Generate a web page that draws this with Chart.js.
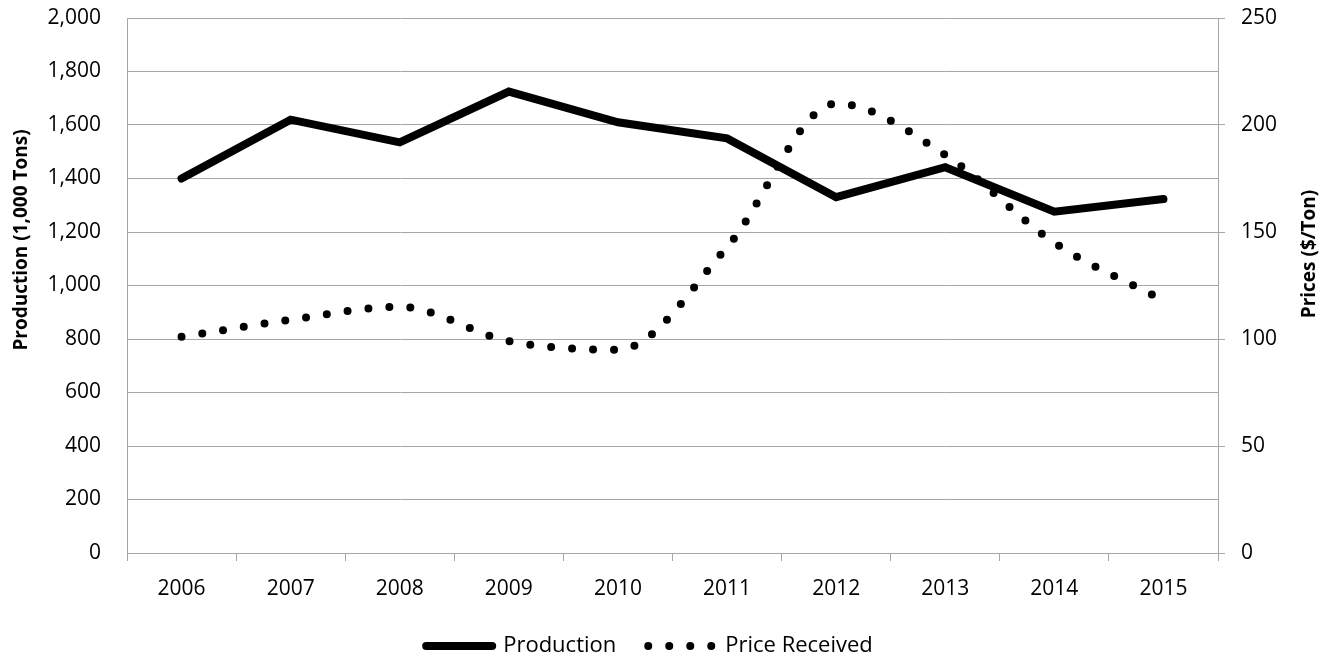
<!DOCTYPE html>
<html lang="en">
<head>
<meta charset="UTF-8" />
<title>Production and Price Received</title>
<script src="https://cdn.jsdelivr.net/npm/chart.js"></script>
<style>
  html, body { margin: 0; padding: 0; background: #fff; }
  #wrap { width: 1333px; height: 659px; }
</style>
</head>
<body>
<div id="wrap"><canvas id="chart"></canvas></div>
<script>
const years = ['2006', '2007', '2008', '2009', '2010', '2011', '2012', '2013', '2014', '2015'];
const production = [1400, 1620, 1535, 1725, 1610, 1550, 1330, 1442, 1276, 1323];
const priceReceived = [101, 109, 115, 99, 95, 143, 210, 186, 145, 118];

const leftTitle = 'Production (1,000 Tons)';
const rightTitle = 'Prices ($/Ton)';

const FONT = '"Open Sans", sans-serif';
const gridGray = '#a6a6a6';

// axis titles drawn by hand so both read bottom-to-top like the original
const axisTitles = {
  id: 'axisTitles',
  afterDraw(chart) {
    const ctx = chart.ctx;
    ctx.save();
    ctx.font = 'bold 19px ' + FONT;
    ctx.fillStyle = '#000';
    ctx.textAlign = 'center';
    ctx.textBaseline = 'middle';
    [[22, 240, leftTitle], [1310, 254, rightTitle]].forEach(([x, y, t]) => {
      ctx.save();
      ctx.translate(x, y);
      ctx.rotate(-Math.PI / 2);
      ctx.fillText(t, 0, 0);
      ctx.restore();
    });
    ctx.restore();
  }
};

// the original legend sits a little left of the page centre
const legendShift = {
  id: 'legendShift',
  afterLayout(chart) {
    chart.legend.left -= 17;
    chart.legend.right -= 17;
  }
};

new Chart(document.getElementById('chart'), {
  type: 'line',
  data: {
    labels: years,
    datasets: [
      {
        label: 'Production',
        data: production,
        yAxisID: 'y',
        borderColor: '#000',
        backgroundColor: '#000',
        borderWidth: 8,
        borderCapStyle: 'round',
        borderJoinStyle: 'miter',
        pointRadius: 0,
        tension: 0
      },
      {
        label: 'Price Received',
        data: priceReceived,
        yAxisID: 'y1',
        borderColor: '#000',
        backgroundColor: '#000',
        borderWidth: 8,
        borderDash: [0, 21],
        borderCapStyle: 'round',
        pointRadius: 0,
        cubicInterpolationMode: 'monotone'
      }
    ]
  },
  options: {
    responsive: true,
    maintainAspectRatio: false,
    animation: false,
    layout: { padding: { top: 0, bottom: -8 } },
    plugins: {
      tooltip: { enabled: false },
      legend: {
        position: 'bottom',
        labels: {
          color: '#000',
          font: { family: FONT, size: 22 },
          usePointStyle: true,
          pointStyleWidth: 66,
          padding: 32,
          generateLabels: chart => chart.data.datasets.map((ds, i) => ({
            text: ds.label,
            datasetIndex: i,
            hidden: false,
            pointStyle: 'line',
            strokeStyle: ds.borderColor,
            fillStyle: ds.borderColor,
            lineWidth: ds.borderWidth,
            lineDash: ds.borderDash || [],
            lineCap: 'round',
            fontColor: '#000'
          }))
        }
      }
    },
    scales: {
      x: {
        offset: true,
        grid: { offset: true, drawOnChartArea: false, color: gridGray, tickLength: 8 },
        border: { color: gridGray },
        ticks: { color: '#000', font: { family: FONT, size: 21 }, padding: 15, maxRotation: 0 },
        afterFit: s => { s.height = 50; }
      },
      y: {
        position: 'left',
        min: 0, max: 2000,
        ticks: { stepSize: 200, color: '#000', font: { family: FONT, size: 21 }, padding: 26,
                 callback: v => v.toLocaleString('en-US') },
        grid: { color: gridGray, drawTicks: false },
        border: { color: gridGray },
        afterFit: s => { s.width = 127; s.paddingTop = 18; }
      },
      y1: {
        position: 'right',
        min: 0, max: 250,
        ticks: { stepSize: 50, color: '#000', font: { family: FONT, size: 21 }, padding: 16 },
        grid: { drawOnChartArea: false, color: gridGray, tickLength: 7 },
        border: { color: gridGray },
        afterFit: s => { s.width = 115; s.paddingTop = 18; }
      }
    }
  },
  plugins: [axisTitles, legendShift]
});
</script>
</body>
</html>
